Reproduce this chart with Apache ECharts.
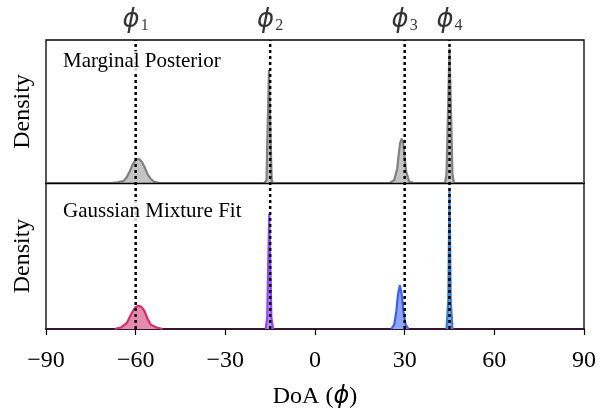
<!DOCTYPE html>
<html>
<head>
<meta charset="utf-8">
<title>DoA posterior</title>
<script src="https://cdn.jsdelivr.net/npm/echarts@6/dist/echarts.min.js"></script>
<style>
  html, body { margin: 0; padding: 0; background: #fff; }
  #chart { width: 614px; height: 417px; }
</style>
</head>
<body>
<div id="chart"></div>
<script>
// true DoAs (dotted lines) and their labels
var trueDoa = [-60, -15, 30, 45];
var phiSubs = ['1', '2', '3', '4'];
var xTicks = [-90, -60, -30, 0, 30, 60, 90];

// marginal posterior (top panel), heights relative to panel
var postX = [-90, -68, -66, -64, -63, -62, -61, -60, -59, -58, -57, -56, -55, -54, -52,
  -17, -16.2, -16, -15.7, -15.4, -15.1, -14.8, -14.5, -14,
  25, 26.5, 27.5, 28, 28.5, 29, 29.5, 30, 30.5, 31.5, 33,
  43.5, 44, 44.5, 45, 45.5, 46, 46.5, 90];
var postY = [0, 0, 0.005, 0.015, 0.04, 0.08, 0.13, 0.16, 0.17, 0.15, 0.11, 0.06, 0.03, 0.01, 0,
  0, 0.02, 0.26, 0.52, 0.79, 0.52, 0.26, 0.02, 0,
  0, 0.02, 0.10, 0.20, 0.28, 0.31, 0.28, 0.18, 0.08, 0.01, 0,
  0, 0.06, 0.50, 0.94, 0.50, 0.06, 0, 0];

// gaussian mixture components (bottom panel)
var g1X = [-67, -65, -63, -62, -61, -60, -59, -58, -57, -56, -55, -53, -51];
var g1Y = [0, 0.01, 0.04, 0.08, 0.12, 0.15, 0.16, 0.15, 0.12, 0.07, 0.03, 0.01, 0];
var g2X = [-16.5, -16, -15.6, -15.3, -15.0, -14.6, -14];
var g2Y = [0, 0.08, 0.5, 0.79, 0.5, 0.08, 0];
var g3X = [25.5, 26.5, 27.2, 27.8, 28.4, 29, 29.6, 30.3, 31.3];
var g3Y = [0, 0.03, 0.12, 0.24, 0.30, 0.24, 0.12, 0.03, 0];
var g4X = [44, 44.6, 45, 45.4, 46];
var g4Y = [0, 0.2, 0.96, 0.2, 0];

function pairs(xs, ys) {
  var out = [];
  for (var i = 0; i < xs.length; i++) out.push([xs[i], ys[i]]);
  return out;
}

var serif = 'Liberation Serif';
var chart = echarts.init(document.getElementById('chart'));

function gaussSeries(xs, ys, line, fill) {
  return {
    type: 'line', xAxisIndex: 1, yAxisIndex: 1,
    data: pairs(xs, ys), symbol: 'none', z: 3,
    lineStyle: { color: line, width: 2.2 },
    areaStyle: { color: fill, opacity: 1 }
  };
}

var series = [{
  type: 'line', xAxisIndex: 0, yAxisIndex: 0,
  data: pairs(postX, postY), symbol: 'none', z: 1,
  lineStyle: { color: '#808080', width: 2.2 },
  areaStyle: { color: '#c4c4c4', opacity: 1 }
},
  gaussSeries(g1X, g1Y, '#d2306a', '#e58bab'),
  gaussSeries(g2X, g2Y, '#9146fb', '#bb8efd'),
  gaussSeries(g3X, g3Y, '#3b5ef3', '#8ea5f6'),
  gaussSeries(g4X, g4Y, '#3a7bd2', '#86ace4')
];

trueDoa.forEach(function (d) {
  series.push({
    type: 'line', xAxisIndex: 2, yAxisIndex: 2,
    data: [[d, 0], [d, 1]], symbol: 'none', z: 6, silent: true,
    lineStyle: { color: '#000', width: 2.5, type: [3, 3], cap: 'butt' }
  });
});

series.push({
  type: 'scatter', xAxisIndex: 2, yAxisIndex: 2, symbolSize: 0, z: 7,
  data: trueDoa.map(function (d) { return [d, 1]; }),
  label: {
    show: true, position: 'top', distance: 6,
    formatter: function (p) { return '{p|\u03d5}{s|' + phiSubs[p.dataIndex] + '}'; },
    rich: {
      p: { fontFamily: 'DejaVu Sans', fontStyle: 'italic', fontSize: 26, color: '#000' },
      s: { fontFamily: serif, fontSize: 16, color: '#000', padding: [12, 0, 0, 1] }
    }
  }
});

var option = {
  animation: false,
  backgroundColor: '#fff',
  grid: [
    { left: 46, right: 30, top: 40, height: 143, show: true, borderColor: '#000', borderWidth: 1.3 },
    { left: 46, right: 30, top: 183, height: 146, show: true, borderColor: '#000', borderWidth: 1.3 },
    { left: 46, right: 30, top: 40, height: 289 }
  ],
  xAxis: [{
    gridIndex: 0, type: 'value', min: -90, max: 90, interval: 30, z: 4,
    axisLine: { show: true, lineStyle: { color: '#000', width: 1.3 } },
    axisTick: { show: false }, axisLabel: { show: false }, splitLine: { show: false }
  }, {
    gridIndex: 1, type: 'value', min: -90, max: 90, interval: 30,
    axisLine: { show: true, onZero: false, lineStyle: { color: '#3a1433', width: 2 } },
    axisTick: { show: true, length: 6, lineStyle: { color: '#000', width: 1.2 } },
    axisLabel: {
      show: true, margin: 20, fontFamily: serif, fontSize: 24, color: '#000',
      formatter: function (v) { return String(v).replace('-', '\u2212'); }
    },
    splitLine: { show: false },
    name: 'DoA ({i|\u03d5})', nameLocation: 'middle', nameGap: 56,
    nameTextStyle: {
      fontFamily: serif, fontSize: 24, color: '#000',
      rich: { i: { fontFamily: 'DejaVu Sans', fontStyle: 'italic', fontSize: 24, color: '#000' } }
    }
  }, {
    gridIndex: 2, type: 'value', min: -90, max: 90, show: false
  }],
  yAxis: [{
    gridIndex: 0, type: 'value', min: 0, max: 1,
    axisLine: { show: false }, axisTick: { show: false }, axisLabel: { show: false }, splitLine: { show: false },
    name: 'Density', nameLocation: 'middle', nameGap: 11, nameRotate: 90,
    nameTextStyle: { fontFamily: serif, fontSize: 24, color: '#000' }
  }, {
    gridIndex: 1, type: 'value', min: 0, max: 1,
    axisLine: { show: false }, axisTick: { show: false }, axisLabel: { show: false }, splitLine: { show: false },
    name: 'Density', nameLocation: 'middle', nameGap: 11, nameRotate: 90,
    nameTextStyle: { fontFamily: serif, fontSize: 24, color: '#000' }
  }, {
    gridIndex: 2, type: 'value', min: 0, max: 1, show: false
  }],
  graphic: [
    { type: 'text', left: 63, top: 51, z: 10, style: { text: 'Marginal Posterior', font: '21px "Liberation Serif"', fill: '#000', backgroundColor: 'rgba(255,255,255,0.8)' } },
    { type: 'text', left: 63, top: 201, z: 10, style: { text: 'Gaussian Mixture Fit', font: '21px "Liberation Serif"', fill: '#000', backgroundColor: 'rgba(255,255,255,0.8)' } }
  ],
  series: series
};

chart.setOption(option);
</script>
</body>
</html>
